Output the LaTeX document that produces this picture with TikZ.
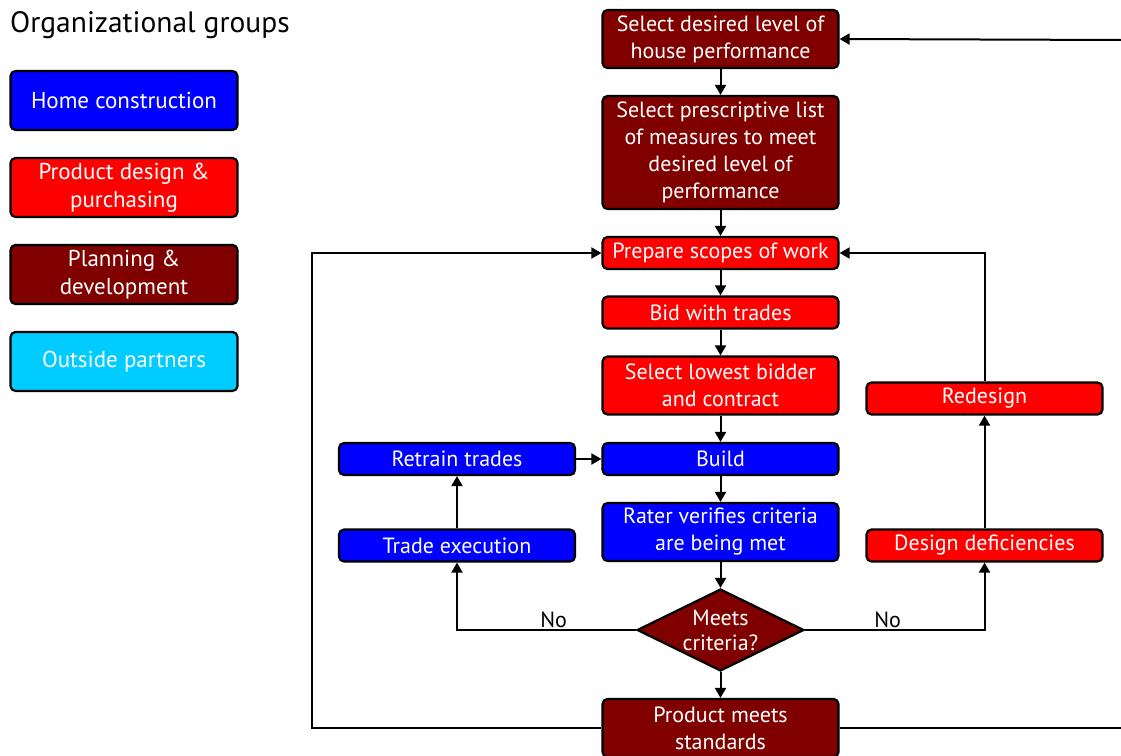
\documentclass[tikz,border=0pt]{standalone}
\usepackage{fontspec}
\setmainfont{PT Sans}
\usetikzlibrary{shapes.geometric,arrows.meta}
\definecolor{pdev}{HTML}{800000}
\definecolor{pred}{HTML}{FF0000}
\definecolor{hblue}{HTML}{0000FF}
\definecolor{ocyan}{HTML}{00CCFF}
\begin{document}
\begin{tikzpicture}[x=1pt,y=-1pt,
  box/.style={draw=black, line width=2.2pt, rounded corners=5pt, text=white, align=center,
    minimum width=236pt, inner sep=1pt, font=\fontsize{22}{27}\selectfont},
  hc/.style={box, fill=hblue},
  pp/.style={box, fill=pred},
  pl/.style={box, fill=pdev},
  op/.style={box, fill=ocyan},
  one/.style={minimum height=32pt},
  two/.style={minimum height=58pt},
  leg/.style={minimum width=227pt, minimum height=59pt, font=\fontsize{23}{28}\selectfont},
  arr/.style={line width=2pt, -{Triangle[length=10pt,width=11pt]}},
  ln/.style={line width=2pt},
  lbl/.style={anchor=south, inner sep=1pt, font=\fontsize{22}{24}\selectfont}]
\clip (0,0) rectangle (1121,755);
\fill[white] (0,0) rectangle (1121,755);

% legend
\node[anchor=west, inner sep=0pt, font=\fontsize{29.5}{32}\selectfont] (title) at (10,25) {Organizational groups};
\node[hc, leg] (lg1) at (124,100.5) {Home construction};
\node[pp, leg] (lg2) at (124,187.5) {Product design \&\\purchasing};
\node[pl, leg] (lg3) at (124,274.5) {Planning \&\\development};
\node[op, leg] (lg4) at (124,361.5) {Outside partners};

% main column
\node[pl, two] (n1) at (720.5,39) {Select desired level of\\house performance};
\node[pl, minimum height=113pt] (n2) at (720.5,152.5) {Select prescriptive list\\of measures to meet\\desired level of\\performance};
\node[pp, one] (n3) at (720.5,253) {Prepare scopes of work};
\node[pp, one] (n4) at (720.5,312.5) {Bid with trades};
\node[pp, two] (n5) at (720.5,385.5) {Select lowest bidder\\and contract};
\node[hc, one] (n6) at (720.5,459) {Build};
\node[hc, two] (n7) at (720.5,532) {Rater verifies criteria\\are being met};
\node[diamond, draw=black, fill=pdev, line width=2.2pt, text=white, align=center, aspect=2,
  inner sep=0pt, minimum width=167pt, minimum height=82pt,
  font=\fontsize{22}{25}\selectfont] (d) at (720.5,630) {Meets\\criteria?};
\node[pl, two] (n8) at (720.5,728) {Product meets\\standards};

% left column
\node[hc, one] (l1) at (457,459) {Retrain trades};
\node[hc, one] (l2) at (457,545.5) {Trade execution};

% right column
\node[pp, one] (r1) at (984.5,398.5) {Redesign};
\node[pp, one] (r2) at (984.5,545.5) {Design deficiencies};

\coordinate (lb) at (312,728);
\coordinate (rb) at (1121,728);
\coordinate (rt) at (1121,40);

% connectors
\draw[arr] (n1) -- (n2);
\draw[arr] (n2) -- (n3);
\draw[arr] (n3) -- (n4);
\draw[arr] (n4) -- (n5);
\draw[arr] (n5) -- (n6);
\draw[arr] (n6) -- (n7);
\draw[arr] (n7) -- (d);
\draw[arr] (d) -- (n8);
\draw[arr] (d.west) -| node[lbl, pos=0.23] {No} (l2.south);
\draw[arr] (d.east) -| node[lbl, pos=0.23] {No} (r2.south);
\draw[arr] (l2) -- (l1);
\draw[arr] (l1) -- (n6);
\draw[arr] (r2) -- (r1);
\draw[arr] (r1.north) |- (n3.east);
\draw[arr] (n8.west) -- (lb) |- (n3.west);
\draw[ln] (n8.east) -- (rb);
\draw[arr] (rt) -- (n1.east);
\end{tikzpicture}
\end{document}
